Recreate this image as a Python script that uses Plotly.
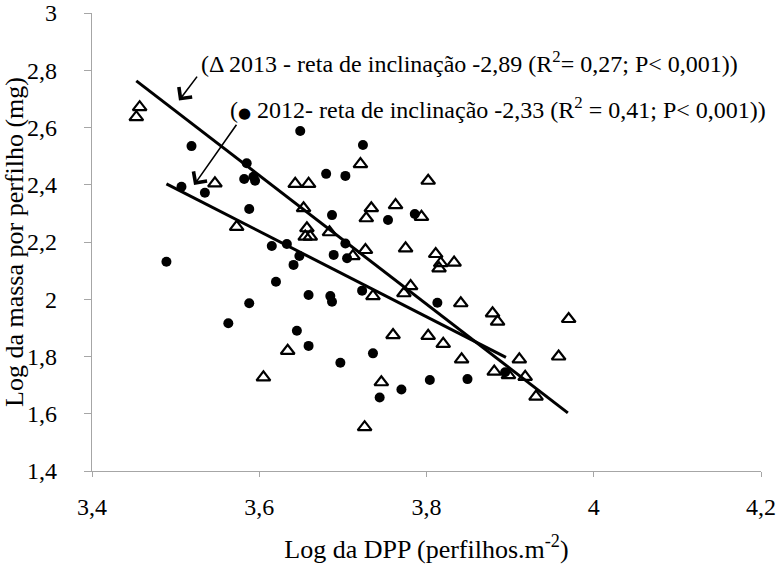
import plotly.graph_objects as go

# 2012 series (filled circles)
x2012 = [3.519, 3.649, 3.724, 3.585, 3.582, 3.593, 3.595, 3.535, 3.507, 3.680,
         3.703, 3.687, 3.754, 3.786, 3.588, 3.615, 3.633, 3.648, 3.641, 3.703,
         3.689, 3.705, 3.489, 3.620, 3.659, 3.685, 3.687, 3.723, 3.588, 3.563,
         3.645, 3.659, 3.697, 3.736, 3.770, 3.744, 3.813, 3.894, 3.804, 3.849]
y2012 = [2.535, 2.588, 2.539, 2.475, 2.420, 2.428, 2.414, 2.372, 2.393, 2.438,
         2.431, 2.294, 2.277, 2.298, 2.315, 2.186, 2.193, 2.151, 2.120, 2.195,
         2.155, 2.143, 2.131, 2.061, 2.015, 2.011, 1.991, 2.030, 1.986, 1.916,
         1.890, 1.837, 1.778, 1.811, 1.685, 1.657, 1.988, 1.745, 1.718, 1.721]

# 2013 series (open triangles)
x2013 = [3.457, 3.453, 3.721, 3.547, 3.643, 3.659, 3.653, 3.734, 3.728, 3.763,
         3.802, 3.794, 3.573, 3.657, 3.655, 3.661, 3.684, 3.712, 3.727, 3.775,
         3.736, 3.781, 3.773, 3.634, 3.760, 3.605, 3.746, 3.726, 3.811, 3.817,
         3.815, 3.833, 3.841, 3.879, 3.885, 3.970, 3.802, 3.820, 3.842, 3.911,
         3.958, 3.881, 3.898, 3.918, 3.931]
y2013 = [2.671, 2.636, 2.472, 2.405, 2.403, 2.403, 2.318, 2.318, 2.283, 2.329,
         2.414, 2.288, 2.253, 2.248, 2.219, 2.219, 2.234, 2.151, 2.172, 2.178,
         2.011, 2.046, 2.021, 1.820, 1.875, 1.727, 1.710, 1.553, 2.158, 2.126,
         2.108, 2.128, 1.986, 1.951, 1.922, 1.931, 1.872, 1.844, 1.790, 1.790,
         1.800, 1.747, 1.735, 1.729, 1.660]

# Fitted lines (end points)
fit2013_x = [3.453, 3.969]
fit2013_y = [2.763, 1.603]
fit2012_x = [3.489, 3.895]
fit2012_y = [2.403, 1.797]

xtick_vals = [3.4, 3.6, 3.8, 4.0, 4.2]
xtick_text = ["3,4", "3,6", "3,8", "4", "4,2"]
ytick_vals = [1.4, 1.6, 1.8, 2.0, 2.2, 2.4, 2.6, 2.8, 3.0]
ytick_text = ["1,4", "1,6", "1,8", "2", "2,2", "2,4", "2,6", "2,8", "3"]

label2013 = "(\u0394 2013 - reta de inclinação -2,89 (R<sup>2</sup>= 0,27; P< 0,001))"
label2012 = ("(<span style='font-family:DejaVu Sans;font-size:15px'>\u25CF</span>"
             " 2012- reta de inclinação -2,33 (R<sup>2</sup> = 0,41; P< 0,001))")

FONT = "Liberation Serif"
AXC = "#a6a6a6"

fig = go.Figure()
fig.add_trace(go.Scatter(x=x2012, y=y2012, mode="markers",
                         marker=dict(symbol="circle", size=10, color="black"),
                         showlegend=False))
fig.add_trace(go.Scatter(x=x2013, y=y2013, mode="markers",
                         marker=dict(symbol="triangle-up-open", size=12, color="black",
                                     line=dict(width=2.2, color="black")),
                         showlegend=False))
fig.add_trace(go.Scatter(x=fit2013_x, y=fit2013_y, mode="lines",
                         line=dict(color="black", width=3), showlegend=False))
fig.add_trace(go.Scatter(x=fit2012_x, y=fit2012_y, mode="lines",
                         line=dict(color="black", width=3), showlegend=False))

annotations = [
    dict(x=3.528, y=2.829, xref="x", yref="y", text=label2013, showarrow=False,
         xanchor="left", yanchor="middle", font=dict(family=FONT, size=24, color="black")),
    dict(x=3.563, y=2.668, xref="x", yref="y", text=label2012, showarrow=False,
         xanchor="left", yanchor="middle", font=dict(family=FONT, size=24, color="black")),
    dict(x=3.504, y=2.694, ax=3.527, ay=2.783, xref="x", yref="y", axref="x", ayref="y",
         text="", showarrow=True, arrowhead=4, arrowsize=2.0, arrowwidth=1.6, arrowcolor="black"),
    dict(x=3.522, y=2.399, ax=3.574, ay=2.615, xref="x", yref="y", axref="x", ayref="y",
         text="", showarrow=True, arrowhead=4, arrowsize=2.0, arrowwidth=1.6, arrowcolor="black"),
]

fig.update_layout(
    width=777, height=569,
    margin=dict(l=92, r=16, t=13, b=98, autoexpand=False),
    paper_bgcolor="white", plot_bgcolor="white",
    font=dict(family=FONT, size=24, color="black"),
    annotations=annotations,
    xaxis=dict(range=[3.4, 4.2], tickvals=xtick_vals, ticktext=xtick_text,
               automargin=False,
               showgrid=False, zeroline=False, showline=True, linecolor=AXC, linewidth=1.3,
               ticks="outside", ticklen=5, tickcolor=AXC, tickwidth=1.3,
               ticklabelstandoff=9, tickfont=dict(family=FONT, size=24),
               title=dict(text="Log da DPP (perfilhos.m<sup>-2</sup>)", standoff=20,
                          font=dict(family=FONT, size=26))),
    yaxis=dict(range=[1.4, 3.0], tickvals=ytick_vals, ticktext=ytick_text,
               automargin=False,
               showgrid=False, zeroline=False, showline=True, linecolor=AXC, linewidth=1.3,
               ticks="outside", ticklen=7, tickcolor=AXC, tickwidth=1.3,
               ticklabelstandoff=22, tickfont=dict(family=FONT, size=24),
               title=dict(text="Log da massa por perfilho (mg)", standoff=0,
                          font=dict(family=FONT, size=26))),
)

fig.write_html("out.html")
